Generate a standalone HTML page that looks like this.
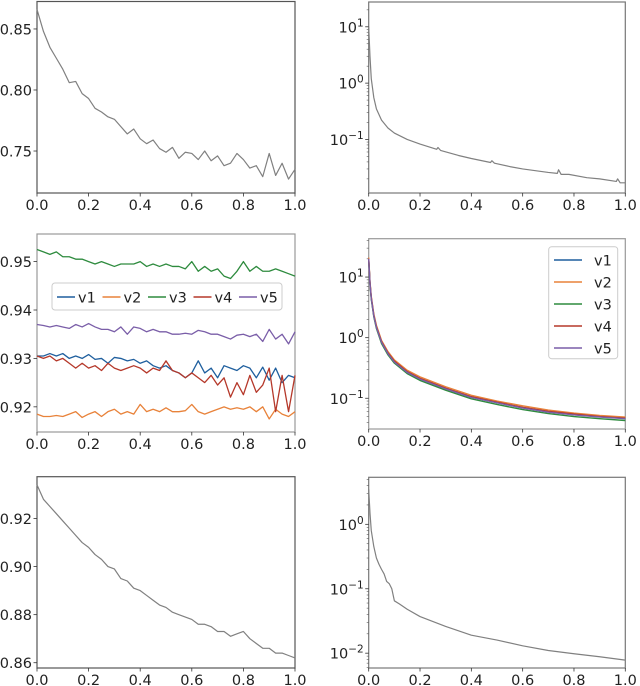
<!DOCTYPE html>
<html><head><meta charset="utf-8">
<style>
html,body{margin:0;padding:0;background:#fff;}
svg{display:block;font-family:"DejaVu Sans","Liberation Sans",sans-serif;}
</style></head>
<body>
<svg id="fig" width="640" height="686" viewBox="0 0 640 686" xmlns="http://www.w3.org/2000/svg"></svg>
<script>
// ---------- data ----------
const xs41 = [0,0.025,0.05,0.075,0.1,0.125,0.15,0.175,0.2,0.225,0.25,0.275,0.3,0.325,0.35,0.375,0.4,0.425,0.45,0.475,0.5,0.525,0.55,0.575,0.6,0.625,0.65,0.675,0.7,0.725,0.75,0.775,0.8,0.825,0.85,0.875,0.9,0.925,0.95,0.975,1.0];
const topLeftVals = [0.866,0.848,0.835,0.826,0.817,0.806,0.807,0.797,0.793,0.785,0.782,0.778,0.776,0.770,0.764,0.768,0.760,0.756,0.759,0.752,0.749,0.753,0.744,0.749,0.748,0.743,0.750,0.742,0.746,0.738,0.740,0.748,0.743,0.736,0.738,0.729,0.748,0.730,0.740,0.727,0.735];
const bottomLeftVals = [0.934,0.928,0.925,0.922,0.919,0.916,0.913,0.910,0.908,0.905,0.903,0.900,0.899,0.895,0.894,0.891,0.890,0.888,0.886,0.884,0.883,0.881,0.880,0.879,0.878,0.876,0.876,0.875,0.873,0.873,0.871,0.872,0.873,0.870,0.868,0.866,0.866,0.864,0.864,0.863,0.862];
const seriesNames = ["v1","v2","v3","v4","v5"];
const midV1 = [0.9305,0.9305,0.931,0.9305,0.931,0.930,0.9305,0.930,0.9308,0.9298,0.930,0.929,0.9302,0.930,0.9295,0.9298,0.929,0.9295,0.9285,0.928,0.9285,0.9275,0.927,0.926,0.927,0.9295,0.927,0.928,0.926,0.9285,0.928,0.9275,0.9285,0.928,0.926,0.9282,0.9255,0.928,0.925,0.9265,0.926];
const midV2 = [0.9185,0.918,0.918,0.9182,0.918,0.9185,0.919,0.9178,0.9185,0.919,0.918,0.919,0.9195,0.9185,0.919,0.9185,0.9205,0.919,0.9195,0.919,0.9198,0.919,0.919,0.9192,0.9205,0.919,0.9185,0.919,0.9195,0.920,0.9195,0.9198,0.9195,0.920,0.919,0.920,0.9175,0.9195,0.9185,0.918,0.919];
const midV3 = [0.9525,0.952,0.9515,0.952,0.951,0.951,0.9505,0.9505,0.950,0.9495,0.950,0.9495,0.949,0.9495,0.9495,0.9495,0.950,0.949,0.9495,0.949,0.9495,0.949,0.949,0.9485,0.950,0.948,0.949,0.948,0.9485,0.947,0.9465,0.948,0.950,0.948,0.949,0.948,0.948,0.9485,0.948,0.9475,0.947];
const midV4 = [0.9305,0.930,0.9305,0.9295,0.930,0.929,0.928,0.929,0.928,0.9285,0.9275,0.929,0.928,0.9275,0.928,0.9285,0.928,0.927,0.928,0.9275,0.9295,0.9275,0.927,0.926,0.927,0.926,0.925,0.9265,0.9245,0.926,0.922,0.925,0.9225,0.9265,0.923,0.9245,0.928,0.919,0.9265,0.919,0.9265];
const midV5 = [0.937,0.9368,0.9365,0.9368,0.9365,0.9362,0.937,0.9365,0.9372,0.9365,0.936,0.936,0.9355,0.9365,0.935,0.9365,0.9362,0.9355,0.936,0.9355,0.9355,0.935,0.935,0.9352,0.935,0.9358,0.9355,0.935,0.935,0.9345,0.934,0.9348,0.935,0.9345,0.935,0.9335,0.936,0.934,0.935,0.933,0.9355];
const logXs = [0,0.005,0.01,0.02,0.03,0.05,0.075,0.1,0.15,0.2,0.3,0.4,0.5,0.6,0.7,0.8,0.9,1.0];
const logV1 = [20,8,4.5,2.3,1.5,0.85,0.55,0.40,0.27,0.21,0.145,0.105,0.085,0.070,0.060,0.054,0.050,0.047];
const logV2 = [21,8.5,4.8,2.45,1.6,0.9,0.59,0.43,0.29,0.225,0.155,0.112,0.09,0.075,0.064,0.057,0.052,0.049];
const logV3 = [19,7.6,4.3,2.2,1.42,0.8,0.52,0.38,0.255,0.197,0.136,0.098,0.079,0.065,0.056,0.050,0.046,0.043];
const logV4 = [20,8.1,4.6,2.33,1.52,0.86,0.56,0.41,0.275,0.213,0.147,0.106,0.086,0.071,0.061,0.055,0.050,0.047];
const logV5 = [20,7.9,4.5,2.28,1.48,0.84,0.545,0.395,0.267,0.207,0.143,0.103,0.084,0.069,0.059,0.053,0.049,0.046];
const trXs = [0,0.005,0.01,0.02,0.03,0.05,0.075,0.1,0.15,0.2,0.265,0.27,0.28,0.35,0.4,0.475,0.48,0.49,0.55,0.6,0.7,0.735,0.74,0.75,0.78,0.85,0.9,0.965,0.97,0.98,1.0];
const trVals = [10,3,1.2,0.55,0.35,0.22,0.16,0.13,0.1,0.083,0.067,0.072,0.064,0.052,0.046,0.039,0.042,0.038,0.033,0.030,0.026,0.025,0.029,0.024,0.024,0.021,0.020,0.018,0.020,0.017,0.017];
const brXs = [0,0.005,0.01,0.02,0.03,0.04,0.05,0.06,0.07,0.08,0.09,0.1,0.12,0.15,0.2,0.3,0.4,0.5,0.6,0.7,0.8,0.9,1.0];
const brVals = [3.5,1.5,0.8,0.45,0.30,0.24,0.20,0.17,0.13,0.12,0.10,0.065,0.058,0.048,0.037,0.026,0.019,0.016,0.013,0.011,0.0098,0.0088,0.0078];
const xTickVals = [0,0.2,0.4,0.6,0.8,1.0];
const xTickLabels = ["0.0","0.2","0.4","0.6","0.8","1.0"];
const tlTicks = [0.75,0.80,0.85], tlLabels = ["0.75","0.80","0.85"];
const mlTicks = [0.92,0.93,0.94,0.95], mlLabels = ["0.92","0.93","0.94","0.95"];
const blTicks = [0.86,0.88,0.90,0.92], blLabels = ["0.86","0.88","0.90","0.92"];
const trExps = [-1,0,1], mrExps = [-1,0,1], brExps = [-2,-1,0];

// ---------- drawing ----------
const NS = "http://www.w3.org/2000/svg";
const fig = document.getElementById("fig");
function el(tag, attrs, parent){ const e=document.createElementNS(NS,tag); for(const k in attrs) e.setAttribute(k,attrs[k]); (parent||fig).appendChild(e); return e; }
const COLORS = ["#1f5f9e","#e8823a","#2e8b3e","#b5382a","#7a5ea8"];

function makeAxes(name, box, ymin, ymax, log, frameColor){
  const g = el("g",{});
  
  
  const [x0,y0,x1,y1] = box;
  const sx = v => x0 + (v-0)*(x1-x0);
  const sy = log ? (v => y1 - (Math.log10(v)-ymin)/(ymax-ymin)*(y1-y0)) : (v => y1 - (v-ymin)/(ymax-ymin)*(y1-y0));
  const frame = el("rect",{x:x0,y:y0,width:x1-x0,height:y1-y0,fill:"none",stroke:frameColor,"stroke-width":1.2},g);
  
  
  const xa = el("g",{},g);
  
  
  xTickVals.forEach((v,i)=>{
    const x=sx(v);
    el("line",{x1:x,y1:y1,x2:x,y2:y1+3.5,stroke:"#333","stroke-width":0.8},xa);
    const t=el("text",{x:x,y:y1+17,"font-size":14.5,"text-anchor":"middle",fill:"#222"},xa);
    t.textContent=xTickLabels[i];
    
    
  });
  const ya = el("g",{},g);
  
  
  return {g,sx,sy,ya,box};
}
function linTicks(ax, vals, labels){
  vals.forEach((v,i)=>{
    const y=ax.sy(v), x0=ax.box[0];
    el("line",{x1:x0,y1:y,x2:x0-3.5,y2:y,stroke:"#333","stroke-width":0.8},ax.ya);
    const t=el("text",{x:x0-5,y:y+5.5,"font-size":14.5,"text-anchor":"end",fill:"#222"},ax.ya);
    t.textContent=labels[i];
    
    
  });
}
function logTicks(ax, exps, ymin, ymax){
  const x0=ax.box[0];
  for(let e=Math.floor(ymin); e<=Math.ceil(ymax); e++){
    for(let m=2;m<10;m++){
      const lv=e+Math.log10(m); if(lv<ymin||lv>ymax) continue;
      const y=ax.sy(Math.pow(10,lv));
      el("line",{x1:x0,y1:y,x2:x0-2,y2:y,stroke:"#555","stroke-width":0.6},ax.ya);
    }
  }
  exps.forEach(e=>{
    const y=ax.sy(Math.pow(10,e));
    el("line",{x1:x0,y1:y,x2:x0-3.5,y2:y,stroke:"#333","stroke-width":0.8},ax.ya);
    const t=el("text",{x:x0-5,y:y+5.5,"font-size":14.5,"text-anchor":"end",fill:"#222"},ax.ya);
    
    
    const a=document.createElementNS(NS,"tspan"); a.textContent="10"; t.appendChild(a);
    const b=document.createElementNS(NS,"tspan"); b.setAttribute("dy","-6"); b.setAttribute("font-size","10.5"); b.textContent=(e<0?"\u2212"+(-e):""+e); t.appendChild(b);
  });
}
function drawLine(ax, xv, yv, color, width, name){
  const d = xv.map((x,i)=>(i?"L":"M")+ax.sx(x).toFixed(2)+","+ax.sy(yv[i]).toFixed(2)).join("");
  const p = el("path",{d:d,fill:"none",stroke:color,"stroke-width":width,"stroke-linejoin":"round"},ax.g);
  
  
}

// top-left
const tl = makeAxes("top-left-chart",[37,1.5,295,193],0.7156,0.8725,false,"#555");
linTicks(tl, tlTicks, tlLabels);
drawLine(tl, xs41, topLeftVals, "#808080", 1.2, "top-left-line");

// top-right
const trMin=-1.95, trMax=1.44;
const tr = makeAxes("top-right-chart",[368.7,2,625.3,193],trMin,trMax,true,"#777");
logTicks(tr, trExps, trMin, trMax);
drawLine(tr, trXs, trVals, "#808080", 1.2, "top-right-line");

// middle-left
const ml = makeAxes("middle-left-chart",[37,234,295,432],0.9148,0.9557,false,"#999");
linTicks(ml, mlTicks, mlLabels);
[midV1,midV2,midV3,midV4,midV5].forEach((s,i)=>drawLine(ml, xs41, s, COLORS[i], 1.3, "middle-left-"+seriesNames[i]));
// legend (horizontal)
const lg1 = el("g",{});


el("rect",{x:52,y:283,width:230,height:27,rx:3,fill:"#fff","fill-opacity":0.85,stroke:"#ccc","stroke-width":1},lg1);
seriesNames.forEach((n,i)=>{
  const bx = 57 + i*45.5;
  const it = el("g",{},lg1);
  
  
  el("line",{x1:bx,y1:297,x2:bx+18,y2:297,stroke:COLORS[i],"stroke-width":1.5},it);
  const t=el("text",{x:bx+21,y:302.5,"font-size":14.5,fill:"#222"},it); t.textContent=n;
});

// middle-right
const mrMin=-1.507, mrMax=1.633;
const mr = makeAxes("middle-right-chart",[368.7,238.7,625.3,429],mrMin,mrMax,true,"#999");
logTicks(mr, mrExps, mrMin, mrMax);
[logV1,logV2,logV3,logV4,logV5].forEach((s,i)=>drawLine(mr, logXs, s, COLORS[i], 1.4, "middle-right-"+seriesNames[i]));
const lg2 = el("g",{});


el("rect",{x:548.7,y:246.7,width:69,height:112,rx:3,fill:"#fff","fill-opacity":0.85,stroke:"#ccc","stroke-width":1},lg2);
seriesNames.forEach((n,i)=>{
  const y = 260 + i*22;
  const it = el("g",{},lg2);
  
  
  el("line",{x1:554,y1:y,x2:582,y2:y,stroke:COLORS[i],"stroke-width":1.5},it);
  const t=el("text",{x:594,y:y+5.5,"font-size":14.5,fill:"#222"},it); t.textContent=n;
});

// bottom-left
const bl = makeAxes("bottom-left-chart",[37,476.7,295,668],0.8578,0.9374,false,"#555");
linTicks(bl, blTicks, blLabels);
drawLine(bl, xs41, bottomLeftVals, "#808080", 1.2, "bottom-left-line");

// bottom-right
const brMin=-2.23, brMax=0.73;
const br = makeAxes("bottom-right-chart",[368.7,477.3,625.3,668],brMin,brMax,true,"#777");
logTicks(br, brExps, brMin, brMax);
drawLine(br, brXs, brVals, "#808080", 1.2, "bottom-right-line");
</script>
</body></html>
